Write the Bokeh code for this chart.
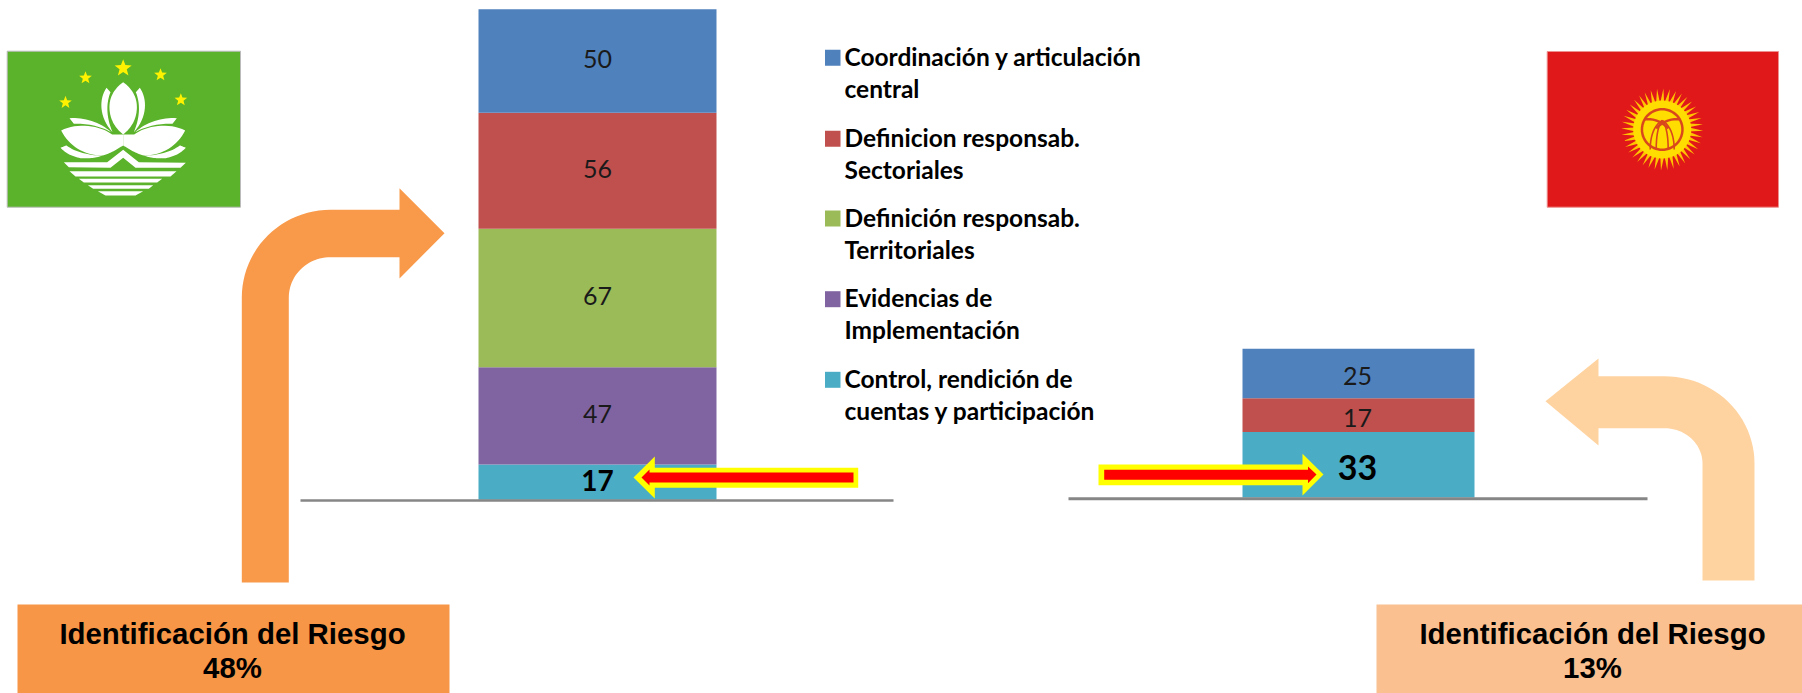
import math
from bokeh.plotting import figure
from bokeh.models import Range1d
from bokeh.core.properties import value
from bokeh.embed import file_html
from bokeh.resources import INLINE

# ---------- data ----------
series = ["Coordinación y articulación\ncentral", "Definicion responsab.\nSectoriales",
          "Definición responsab.\nTerritoriales", "Evidencias de\nImplementación",
          "Control, rendición de\ncuentas y participación"]
colors = ["#4F81BD", "#C0504D", "#9BBB59", "#8064A2", "#4BACC6"]
left_values = [50, 56, 67, 47, 17]
right_values = [25, 17, 0, 0, 33]
box_title = "Identificación del Riesgo"
left_pct = "48%"
right_pct = "13%"

W, H = 1802, 693
p = figure(width=W, height=H, x_range=Range1d(0, W), y_range=Range1d(H, 0),
           output_backend="svg", toolbar_location=None, min_border=0)
p.axis.visible = False
p.grid.visible = False
p.outline_line_color = None
p.background_fill_color = "white"

# value scales: one for each stacked bar (page y of zero, px per unit)
def val_range(base, k):
    return Range1d(-(H - base) / k, base / k)
p.extra_y_ranges = {"L": val_range(499.3, 2.07), "R": val_range(497, 1.985)}

TXT = "#1a1a1a"
def stack(vals, cx, w, rng):
    bottom = 0
    out = []
    for v, c in reversed(list(zip(vals, colors))):
        if v:
            p.vbar(x=[cx], width=w, bottom=[bottom], top=[bottom + v], fill_color=c,
                   line_color=None, y_range_name=rng)
            out.append((v, bottom + v / 2))
        bottom += v
    return out

lab_l = stack(left_values, 597, 238, "L")
lab_r = stack(right_values, 1358, 232, "R")

def poly(pts, color, alpha=1):
    p.patch([a for a, _ in pts], [b for _, b in pts], fill_color=color, line_color=None, fill_alpha=alpha)

def arc(cx, cy, rx, ry, a0, a1, n=24):
    return [(cx + rx * math.cos(math.radians(a0 + (a1 - a0) * i / n)),
             cy + ry * math.sin(math.radians(a0 + (a1 - a0) * i / n))) for i in range(n + 1)]

def bez(p0, p1, p2, p3, n=16):
    o = []
    for i in range(n + 1):
        t = i / n
        u = 1 - t
        o.append((u**3*p0[0] + 3*u*u*t*p1[0] + 3*u*t*t*p2[0] + t**3*p3[0],
                  u**3*p0[1] + 3*u*u*t*p1[1] + 3*u*t*t*p2[1] + t**3*p3[1]))
    return o

def star(cx, cy, r, rot=-90):
    pts = []
    for i in range(10):
        rr = r if i % 2 == 0 else r * 0.42
        a = math.radians(rot + 36 * i)
        pts.append((cx + rr * math.cos(a), cy + rr * math.sin(a)))
    return pts

# ---------- baselines ----------
p.line([300, 893], [500, 500], line_color="#868686", line_width=2.5)
p.line([1068, 1647], [498.3, 498.3], line_color="#868686", line_width=3)

# ---------- bent arrows ----------
ORANGE = "#F99A4B"
PEACH = "#FFD3A0"
left_arrow = ([(241.3, 582)] + arc(330, 297, 88.7, 87.7, 180, 270) +
              [(399, 209.3), (399, 187.7), (444, 232.7), (399, 278), (399, 256.7)] +
              arc(330, 297, 41.7, 40.3, 270, 180) + [(288.3, 582)])
poly(left_arrow, ORANGE)
right_arrow = ([(1754, 580)] + arc(1664, 463, 90, 87.3, 0, -90) +
               [(1598, 375.7), (1598, 358), (1545, 400.7), (1598, 445), (1598, 427.7)] +
               arc(1664, 463, 38, 35.3, -90, 0) + [(1702, 580)])
poly(right_arrow, PEACH)

# ---------- red/yellow arrows ----------
poly([(857.7, 467.3), (654.3, 467.3), (654.3, 456), (633, 477), (654.3, 498), (654.3, 487.3), (857.7, 487.3)], "#FFFF00")
poly([(853, 472), (649, 472), (649, 469), (641, 477), (649, 485), (649, 482), (853, 482)], "#FF0000")
poly([(1098, 464), (1302, 464), (1302, 453.3), (1323, 474), (1302, 495), (1302, 484.7), (1098, 484.7)], "#FFFF00")
poly([(1103.7, 469.3), (1307.5, 469.3), (1307.5, 466), (1316, 474), (1307.5, 482.7), (1307.5, 479.3), (1103.7, 479.3)], "#FF0000")

# ---------- bar labels ----------
def labels(items, cx, rng, emph, size, emph_size, dy):
    for v, mid in items:
        big = v == emph
        p.text([cx], [mid], text=[str(v)], y_range_name=rng, text_align="center",
               text_baseline="middle", text_font=value("Lato"), y_offset=dy,
               text_font_size=f"{emph_size if big else size}px",
               text_font_style="bold" if big else "normal",
               text_color="#000000" if big else TXT)
labels(lab_l, 597, "L", 17, 25, 28, -1.5)
labels(lab_r, 1357, "R", 33, 25, 34, 2.5)

# ---------- legend ----------
ys = [55.8, 136.8, 216.5, 297.2, 377.8]
for name, c, y in zip(series, colors, ys):
    p.quad(left=[824.5], right=[840], top=[y - 6.5], bottom=[y + 9.5], fill_color=c, line_color=None)
    for i, line in enumerate(name.split("\n")):
        p.text([844], [y + i * 32], text=[line], text_align="left", text_baseline="middle",
               text_font=value("Lato"), text_font_size="24.5px", text_font_style="bold",
               text_color="#000000")

# ---------- boxes ----------
p.quad(left=[17], right=[449], top=[604], bottom=[693], fill_color="#F79646", line_color=None)
p.quad(left=[1376], right=[1802], top=[604], bottom=[693], fill_color="#FAC090", line_color=None)
for cx, pct in ((232, left_pct), (1592, right_pct)):
    for y, t in ((633, box_title), (667, pct)):
        p.text([cx], [y], text=[t], text_align="center", text_baseline="middle",
               text_font=value("Liberation Sans"), text_font_size="29.4px", text_font_style="bold",
               text_color="#000000")

# ---------- Macau flag ----------
def Z(pts):
    return [(a / 3, 30 + b / 3) for a, b in pts]
p.quad(left=[6.7], right=[240], top=[50.7], bottom=[206.7], fill_color="#5AB32A", line_color="#BBBBBB", line_width=1)
for cx, cy, r in ((368, 113, 27), (255, 142, 20), (480, 133, 20), (195, 216, 20), (541, 208, 20)):
    poly(Z(star(cx, cy, r)), "#FFF200")
def both(pts, color="white"):
    poly(Z(pts), color)
    poly(Z([(736 - a, b) for a, b in pts]), color)
# centre petal (one closed shape)
half = bez((368, 155), (340, 175), (322, 205), (328, 245)) + bez((328, 245), (332, 275), (350, 298), (368, 312))
poly(Z(half + [(736 - a, b) for a, b in reversed(half)]), "white")
# thin side petals
both(bez((318, 172), (295, 205), (295, 260), (336, 305)) + bez((336, 305), (315, 255), (318, 215), (330, 185)))
# large petals
both(bez((182, 300), (230, 275), (300, 285), (335, 312)) + [(368, 312)] + [(368, 345)] +
     bez((368, 345), (350, 355), (330, 370), (305, 375)) + bez((305, 375), (250, 375), (205, 345), (182, 300)))
# upper crescents
both(bez((207, 263), (250, 260), (300, 275), (332, 305)) + bez((332, 305), (295, 285), (255, 278), (220, 280)))
# lower crescents
both(bez((180, 352), (190, 348), (195, 345), (198, 345)) + bez((198, 345), (225, 365), (265, 375), (305, 375)) +
     bez((305, 375), (290, 382), (265, 385), (240, 383)) + bez((240, 383), (215, 378), (195, 368), (180, 352)))
# chevron band and stripes
poly(Z([(190, 395), (320, 395), (368, 358), (415, 395), (556, 397), (540, 412), (405, 412), (368, 382), (330, 412), (205, 410)]), "white")
for a, b, c, d, y0, y1 in ((207, 528, 510, 225, 422, 438), (235, 485, 470, 250, 445, 456),
                           (262, 458, 445, 278, 464, 475), (292, 428, 405, 315, 482, 495)):
    poly(Z([(a, y0), (b, y0), (c, y1), (d, y1)]), "white")

# ---------- Kyrgyz flag ----------
p.quad(left=[1546.7], right=[1778], top=[51], bottom=[206.7], fill_color="#E0181A", line_color="#EE9090", line_width=1)
SX, SY = 1661.7, 129
SUN = "#FFDD00"
RUST = "#D9481C"
for i in range(40):
    a = 2 * math.pi * i / 40
    da = 0.07
    poly([(SX + 27 * math.cos(a - da), SY + 27 * math.sin(a - da)),
          (SX + 41 * math.cos(a + 0.03), SY + 41 * math.sin(a + 0.03)),
          (SX + 27 * math.cos(a + da), SY + 27 * math.sin(a + da))], "#FFC400")
poly(arc(SX, SY, 29, 29, 0, 360, 60), SUN)
poly(arc(SX, SY, 21.5, 21.5, 0, 360, 60), RUST)
poly(arc(SX, SY, 19, 19, 0, 360, 60), SUN)
for d in (-12, -6, 6, 12):
    pts = bez((SX + d * 1.0, SY + 20), (SX + d * 1.0, SY + 5), (SX + d * 0.6, SY - 5), (SX, SY - 9), 10)
    p.line([a for a, _ in pts], [b for _, b in pts], line_color=RUST, line_width=1.6)
for s in (-1, 1):
    pts = bez((SX + s * 18, SY - 10), (SX + s * 8, SY - 12), (SX - s * 2, SY - 6), (SX - s * 6, SY - 1), 10)
    p.line([a for a, _ in pts], [b for _, b in pts], line_color=RUST, line_width=2.5)

open("out.html", "w").write(file_html(p, INLINE))
